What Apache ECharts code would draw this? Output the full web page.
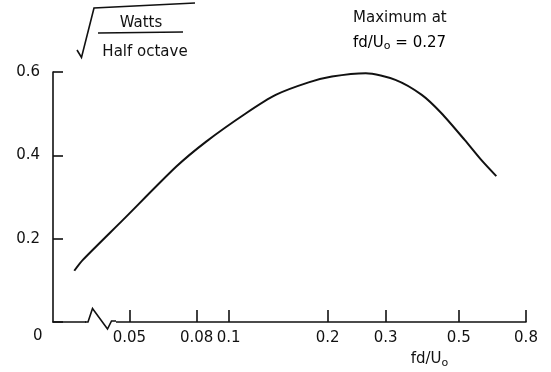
<!DOCTYPE html>
<html>
<head>
<meta charset="utf-8">
<script src="https://cdn.jsdelivr.net/npm/echarts@6/dist/echarts.min.js"></script>
<style>html,body{margin:0;padding:0;background:#fff}#c{width:551px;height:372px}</style>
</head>
<body>
<div id="c"></div>
<script>
// Data
const fdValues = [0.034, 0.0361, 0.0478, 0.0694, 0.0855, 0.113, 0.139, 0.175, 0.206, 0.261, 0.321, 0.386, 0.443, 0.521, 0.585, 0.650];
const amplitude = [0.123, 0.149, 0.245, 0.373, 0.433, 0.501, 0.545, 0.575, 0.589, 0.597, 0.581, 0.545, 0.501, 0.437, 0.389, 0.350];
const xTicks = [0.05, 0.08, 0.1, 0.2, 0.3, 0.5, 0.8];
const xTickLabels = ['0.05', '0.08', '0.1', '0.2', '0.3', '0.5', '0.8'];
const yTicks = [0.2, 0.4, 0.6];

const FONT = 'DejaVu Sans';
const INK = '#111';
const chart = echarts.init(document.getElementById('c'), null, {renderer: 'canvas'});

chart.setOption({
  animation: false,
  backgroundColor: '#fff',
  grid: {left: 53, right: 25, top: 72, bottom: 50, containLabel: false, outerBoundsMode: 'none'},
  xAxis: {
    type: 'log', logBase: 10, min: 0.0293, max: 0.8,
    name: '{a|fd/U}{s|o}', nameLocation: 'middle', nameGap: 28,
    nameTextStyle: {padding: [0, 0, 0, 280], rich: {
      a: {fontFamily: FONT, fontSize: 15, color: INK},
      s: {fontFamily: FONT, fontSize: 11, color: INK, padding: [8, 0, 0, 0]}
    }},
    axisLine: {show: true, lineStyle: {color: INK, width: 1.6}},
    axisTick: {show: true, inside: true, length: 12, customValues: xTicks, lineStyle: {color: INK, width: 1.6}},
    axisLabel: {show: true, customValues: xTicks, margin: 9, fontFamily: FONT, fontSize: 15, color: INK,
      formatter: v => { let best = xTickLabels[0], d = Infinity; xTicks.forEach((t, i) => { const dd = Math.abs(Math.log(t) - Math.log(v)); if (dd < d) { d = dd; best = xTickLabels[i]; } }); return best; }},
    splitLine: {show: false}, minorTick: {show: false}, minorSplitLine: {show: false}
  },
  yAxis: {
    type: 'value', min: 0, max: 0.6, interval: 0.2,
    axisLine: {show: true, lineStyle: {color: INK, width: 1.6}},
    axisTick: {show: true, inside: true, length: 10, lineStyle: {color: INK, width: 1.6}},
    axisLabel: {show: true, margin: 13, fontFamily: FONT, fontSize: 15, color: INK,
      formatter: v => (v === 0 ? '' : v.toFixed(1))},
    splitLine: {show: false}
  },
  series: [{
    type: 'line', smooth: 0.25, symbol: 'none',
    lineStyle: {color: INK, width: 2},
    data: fdValues.map((x, i) => [x, amplitude[i]])
  }],
  graphic: [
    // origin label
    {type: 'text', left: 33, top: 329, style: {text: '0', fontFamily: FONT, fontSize: 15, fill: INK}},
    // axis break
    {type: 'rect', shape: {x: 86, y: 316, width: 30, height: 8}, style: {fill: '#fff'}, z: 100},
    {type: 'polyline', shape: {points: [[85, 322], [88, 322], [92.5, 308.5], [107.5, 329], [111.5, 321], [116, 321]]},
      style: {stroke: INK, lineWidth: 1.6, fill: null}, z: 101},
    // radical sign and fraction
    {type: 'polyline', shape: {points: [[77, 50], [81.5, 57.5], [94, 8], [195, 3]]},
      style: {stroke: INK, lineWidth: 1.6, fill: null}},
    {type: 'line', shape: {x1: 98, y1: 33, x2: 183, y2: 32}, style: {stroke: INK, lineWidth: 1.4}},
    {type: 'text', x: 141, y: 23, style: {text: 'Watts', fontFamily: FONT, fontSize: 15, fill: INK, align: 'center', verticalAlign: 'middle'}},
    {type: 'text', x: 145, y: 52, style: {text: 'Half octave', fontFamily: FONT, fontSize: 15, fill: INK, align: 'center', verticalAlign: 'middle'}},
    // annotation
    {type: 'text', x: 353, y: 18, style: {text: 'Maximum at', fontFamily: FONT, fontSize: 15, fill: INK, align: 'left', verticalAlign: 'middle'}},
    {type: 'text', x: 353, y: 43, style: {
      text: '{a|fd/U}{s|o}{a| = 0.27}', verticalAlign: 'middle',
      rich: {a: {fontFamily: FONT, fontSize: 15, color: INK}, s: {fontFamily: FONT, fontSize: 11, color: INK, padding: [6, 0, 0, 0]}}
    }}
  ]
});
</script>
</body>
</html>
